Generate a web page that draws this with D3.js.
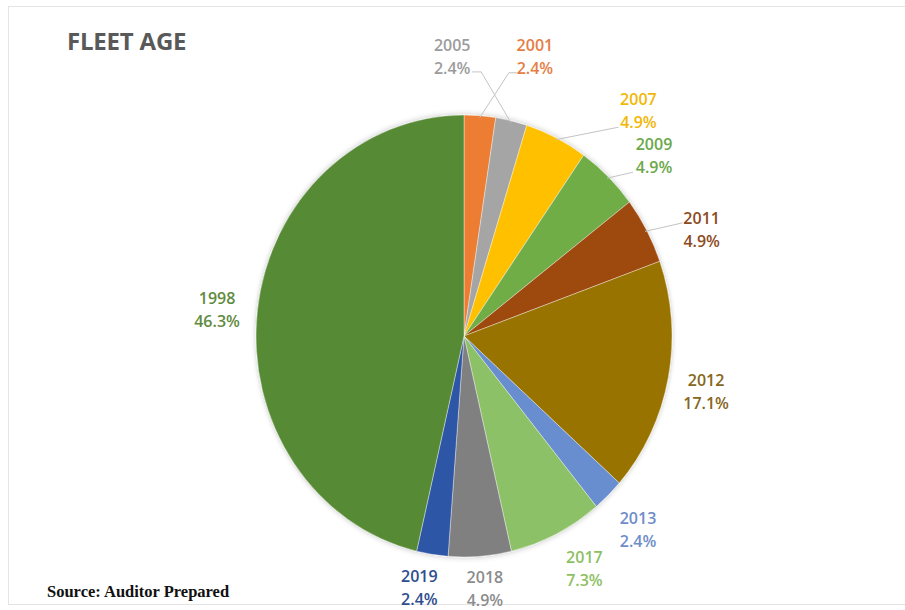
<!DOCTYPE html>
<html>
<head>
<meta charset="utf-8">
<script src="https://cdn.jsdelivr.net/npm/d3@7"></script>
<style>
	body { margin: 0; background: #fff; }
	svg { display: block; }
</style>
</head>
<body>
<div id="chart-area"></div>
<script>
// data
const years = ['2001', '2005', '2007', '2009', '2011', '2012', '2013', '2017', '2018', '2019', '1998']
const vehicles = [1, 1, 2, 2, 2, 7, 1, 3, 2, 1, 19]

const width = 905
const height = 610

// pie geometry (picture is slightly stretched vertically)
const center = { x: 464, y: 336 }
const ry = 221
const sx = 208 / 221

// colours for slices and labels
const sliceColor = d3.scaleOrdinal()
	.domain(years)
	.range(['#ED7D31', '#A5A5A5', '#FFC000', '#70AD47', '#9E480E', '#997300',
		'#698ED0', '#8CC168', '#808080', '#2F56A6', '#578A36'])
const labelColor = d3.scaleOrdinal()
	.domain(years)
	.range(['#E57E45', '#9C9C9C', '#F2B705', '#6AA84A', '#8C4A22', '#86661A',
		'#6F8DC8', '#8DC062', '#8C8C8C', '#2E4E8E', '#5F8B40'])

// label nudges away from the label arc, and leader line ends (relative to label centre)
const nudge = {
	'2001': [52, -18], '2005': [-68, -24], '2007': [65, 9], '2009': [19, 8],
	'2011': [21, 19], '2012': [0, 6], '2013': [3, 5], '2017': [11, -2],
	'2018': [2, -9], '2019': [-7, -7], '1998': [-2, 4]
}
const leader = {
	'2001': [[-26, 16], [-18, 16]],
	'2005': [[29, 15], [20, 15]],
	'2007': [[-20, 17]],
	'2009': [[-21, 17]],
	'2011': [[-19, -7]]
}

const total = d3.sum(vehicles)
const fmt = d3.format('.1%')

const rows = years.map((y, i) => ({ year: y, value: vehicles[i] }))

const svg = d3.select('#chart-area')
	.append('svg')
	.attr('width', width)
	.attr('height', height)

// soft shadow round the pie
const defs = svg.append('defs')
const filter = defs.append('filter')
	.attr('id', 'glow')
	.attr('x', '-10%').attr('y', '-10%')
	.attr('width', '120%').attr('height', '120%')
filter.append('feGaussianBlur')
	.attr('in', 'SourceAlpha')
	.attr('stdDeviation', 3)
	.attr('result', 'blur')
filter.append('feComponentTransfer')
	.append('feFuncA').attr('type', 'linear').attr('slope', 0.25)
const merge = filter.append('feMerge')
merge.append('feMergeNode')
merge.append('feMergeNode').attr('in', 'SourceGraphic')

// frame
svg.append('rect')
	.attr('x', 8.5)
	.attr('y', 6.5)
	.attr('width', 905)
	.attr('height', 598)
	.attr('fill', 'none')
	.attr('stroke', '#e4e4e4')

// title
svg.append('text')
	.attr('x', 67)
	.attr('y', 50)
	.attr('font-family', "'Open Sans', sans-serif")
	.attr('font-weight', 700)
	.attr('font-size', 24)
	.attr('letter-spacing', -0.2)
	.attr('fill', '#595959')
	.text('FLEET AGE')

const pie = d3.pie()
	.sort(null)
	.value(d => d.value)

const arcs = pie(rows)

const arc = d3.arc()
	.innerRadius(0)
	.outerRadius(ry)

const edgeArc = d3.arc()
	.innerRadius(ry - 2)
	.outerRadius(ry - 2)

const labelArc = d3.arc()
	.innerRadius(262)
	.outerRadius(262)

const g = svg.append('g')
	.attr('transform', 'translate(' + center.x + ',' + center.y + ')')

g.append('g')
	.attr('transform', 'scale(' + sx + ',1)')
	.attr('filter', 'url(#glow)')
	.selectAll('path')
	.data(arcs)
	.join('path')
	.attr('d', arc)
	.attr('fill', d => sliceColor(d.data.year))
	.attr('stroke', '#fff')
	.attr('stroke-width', 0.4)

// label centres
arcs.forEach(d => {
	const c = labelArc.centroid(d)
	const n = nudge[d.data.year]
	d.lx = c[0] * sx + n[0]
	d.ly = c[1] + n[1]
	const e = edgeArc.centroid(d)
	d.ex = e[0] * sx
	d.ey = e[1]
})

// leader lines
const line = d3.line()
g.append('g')
	.selectAll('path')
	.data(arcs.filter(d => leader[d.data.year]))
	.join('path')
	.attr('d', d => {
		const pts = [[d.ex, d.ey]]
		leader[d.data.year].forEach(p => pts.push([d.lx + p[0], d.ly + p[1]]))
		return line(pts)
	})
	.attr('fill', 'none')
	.attr('stroke', '#c4c4c4')
	.attr('stroke-width', 1)

// labels
const labels = g.append('g')
	.selectAll('text')
	.data(arcs)
	.join('text')
	.attr('text-anchor', 'middle')
	.attr('font-family', "'Open Sans', sans-serif")
	.attr('font-weight', 600)
	.attr('font-size', 16)
	.attr('fill', d => labelColor(d.data.year))

labels.append('tspan')
	.attr('x', d => d.lx)
	.attr('y', d => d.ly - 11.5)
	.attr('dominant-baseline', 'central')
	.text(d => d.data.year)

labels.append('tspan')
	.attr('x', d => d.lx)
	.attr('y', d => d.ly + 11.5)
	.attr('dominant-baseline', 'central')
	.text(d => fmt(d.data.value / total))

// source note
svg.append('text')
	.attr('x', 47)
	.attr('y', 597)
	.attr('font-family', "'Liberation Serif', 'Times New Roman', serif")
	.attr('font-weight', 700)
	.attr('font-size', 16.5)
	.attr('fill', '#111')
	.text('Source: Auditor Prepared')
</script>
</body>
</html>
